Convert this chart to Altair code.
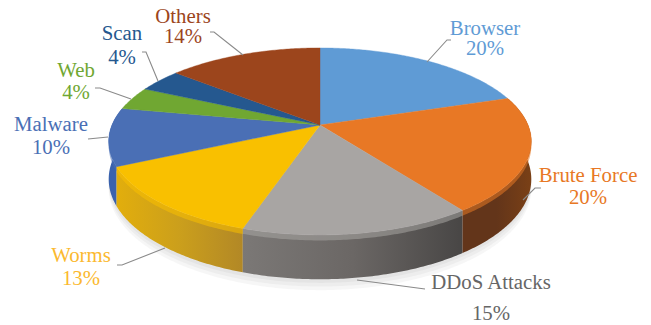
import math
import altair as alt
import pandas as pd

# Attack categories and their shares (percent), clockwise from twelve o'clock
categories = ["Browser", "Brute Force", "DDoS Attacks", "Worms", "Malware", "Web", "Scan", "Others"]
shares = [20, 20, 15, 13, 10, 4, 4, 14]
face_colors = ["#5f9bd5", "#e87825", "#a8a5a3", "#f9c000", "#4a6fb5", "#70a732", "#25588f", "#9c451c"]
label_colors = ["#5f9bd5", "#e87825", "#666666", "#fbb92f", "#4a6fb5", "#70a732", "#25588f", "#9c451c"]

# Label anchors: centre x, first baseline, second baseline
label_anchor = {
    "Browser": (485, 35, 55),
    "Brute Force": (588, 182, 204),
    "DDoS Attacks": (491, 289, 320),
    "Worms": (81, 262, 285),
    "Malware": (51, 131, 154),
    "Web": (76, 77, 99),
    "Scan": (122, 40, 64),
    "Others": (183, 23, 43),
}

# Leader line paths beside each label
leader_paths = {
    "Browser": [(427, 62), (447, 40), (451, 40)],
    "Brute Force": [(523, 200), (535, 188), (541, 188)],
    "DDoS Attacks": [(357, 280), (425, 289)],
    "Worms": [(165, 248), (122, 265), (117, 265)],
    "Malware": [(108, 137), (88, 139)],
    "Web": [(131, 99), (100, 88), (95, 88)],
    "Scan": [(158, 81), (146, 52), (142, 52)],
    "Others": [(243, 55), (214, 32), (210, 32)],
}

# Side-wall shading across each visible wall, left to right
wall_stops = {
    "Brute Force": ["#63351a", "#63351a", "#7a4016"],
    "DDoS Attacks": ["#7b7876", "#6b6765", "#484645"],
    "Worms": ["#e2ae0c", "#cb9f1c", "#b28826"],
    "Malware": ["#3a62ad", "#3a62ad", "#3a62ad"],
}

W, H = 651, 325
CX, CY = 320, 125
A, B, K = 208, 90.6, 0.176
DEPTH = 36.5


def rim(deg, drop=0.0, grow=1.0):
    """Perspective position on the pie's rim; angles run clockwise from the top."""
    t = math.radians(deg)
    u, v = math.sin(t), -math.cos(t)
    w = 1 - K * v
    return [CX + grow * A * u / w, CY + grow * B * v / w + drop / w]


def arc(a0, a1, drop=0.0):
    n = max(2, int(abs(a1 - a0) * 1.5))
    return [rim(a0 + (a1 - a0) * i / n, drop) for i in range(n + 1)]


def feature(points, **props):
    return {
        "type": "Feature",
        "properties": props,
        "geometry": {"type": "Polygon", "coordinates": [points + [points[0]]]},
    }


edges = [0]
for s in shares:
    edges.append(edges[-1] + s * 3.6)

faces = []
walls = {}
bevels = []
for i, name in enumerate(categories):
    a0, a1 = edges[i], edges[i + 1]
    faces.append(feature([[CX, CY]] + arc(a0, a1), name=name, fill=face_colors[i]))
    if name in wall_stops:
        top = arc(a0, a1)
        walls[name] = feature(top + arc(a1, a0, DEPTH), name=name)
        bevels.append(feature(top + arc(a1, a0, 4.5), name=name, fill=face_colors[i]))

projection = alt.Projection(type="identity", scale=1, translate=[0, 0])


def wall_layer(name):
    stops = wall_stops[name]
    gradient = alt.Gradient(
        gradient="linear", x1=0, y1=0, x2=1, y2=0,
        stops=[alt.GradientStop(offset=o, color=c) for o, c in zip([0, 0.5, 1], stops)],
    )
    return (
        alt.Chart(alt.Data(values=[walls[name]]))
        .mark_geoshape(fill=gradient, strokeWidth=0)
        .project(**projection.to_dict())
    )


# Soft contact shadow under the wall
shadow = [
    feature(arc(90, 285, DEPTH + extra), opacity=0.0)
    for extra in (9, 6, 3)
]
shadow_layer = (
    alt.Chart(alt.Data(values=shadow))
    .mark_geoshape(fill="#000000", fillOpacity=0.035, strokeWidth=0)
    .project(**projection.to_dict())
)

bevel_layer = (
    alt.Chart(alt.Data(values=bevels))
    .mark_geoshape(fillOpacity=0.55, strokeWidth=0)
    .encode(fill=alt.Fill("properties.fill:N", scale=None))
    .project(**projection.to_dict())
)

face_layer = (
    alt.Chart(alt.Data(values=faces))
    .mark_geoshape(strokeWidth=0.4)
    .encode(
        fill=alt.Fill("properties.fill:N", scale=None),
        stroke=alt.Stroke("properties.fill:N", scale=None),
    )
    .project(**projection.to_dict())
)

leader_rows = [
    {"name": name, "step": j, "x": p[0], "y": p[1]}
    for name, pts in leader_paths.items()
    for j, p in enumerate(pts)
]
leader_layer = (
    alt.Chart(pd.DataFrame(leader_rows))
    .mark_line(color="#8a8a8a", strokeWidth=1.1)
    .encode(
        x=alt.X("x:Q", scale=None, axis=None),
        y=alt.Y("y:Q", scale=None, axis=None),
        detail="name:N",
        order="step:Q",
    )
)

label_rows = []
for name, value, color in zip(categories, shares, label_colors):
    cx, y1, y2 = label_anchor[name]
    label_rows.append({"text": name, "x": cx, "y": y1, "color": color})
    label_rows.append({"text": f"{value}%", "x": cx, "y": y2, "color": color})
label_layer = (
    alt.Chart(pd.DataFrame(label_rows))
    .mark_text(font="Liberation Serif", fontSize=20.8, align="center", baseline="alphabetic")
    .encode(
        x=alt.X("x:Q", scale=None, axis=None),
        y=alt.Y("y:Q", scale=None, axis=None),
        text="text:N",
        color=alt.Color("color:N", scale=None),
    )
)

chart = (
    alt.layer(
        shadow_layer,
        *[wall_layer(n) for n in ["Malware", "Worms", "DDoS Attacks", "Brute Force"]],
        bevel_layer,
        face_layer,
        leader_layer,
        label_layer,
    )
    .properties(width=W, height=H, padding=0, autosize=alt.AutoSizeParams(type="none"), background="white")
    .configure_view(stroke=None)
)

chart.save("out.html", embed_options={"renderer": "svg", "actions": False})
